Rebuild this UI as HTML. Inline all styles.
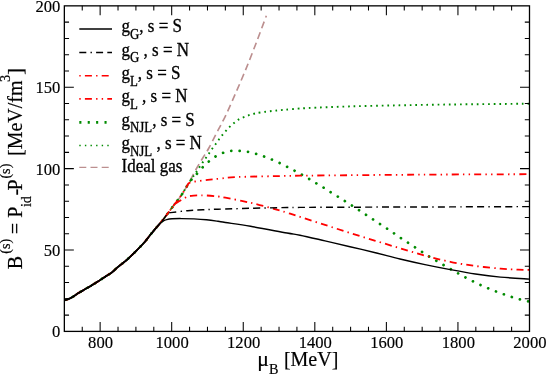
<!DOCTYPE html>
<html><head><meta charset="utf-8"><title>chart</title>
<style>html,body{margin:0;padding:0;background:#fff;}body{width:546px;height:374px;overflow:hidden;position:relative;font-family:"Liberation Serif",serif;}</style>
</head><body>
<svg width="546" height="374" viewBox="0 0 546 374" style="position:absolute;left:0;top:0;will-change:transform">
<rect x="0" y="0" width="546" height="374" fill="#fff"/>
<clipPath id="c"><rect x="64.35" y="5.85" width="465.15" height="325.55"/></clipPath>
<g clip-path="url(#c)" fill="none">
<path d="M64.00 300.00 C64.42 299.93 65.50 299.87 66.50 299.60 C67.50 299.33 68.75 298.98 70.00 298.40 C71.25 297.82 72.67 296.95 74.00 296.10 C75.33 295.25 76.52 294.23 78.00 293.30 C79.48 292.37 81.57 291.28 82.90 290.50 C84.23 289.72 84.82 289.28 86.00 288.60 C87.18 287.92 88.65 287.20 90.00 286.40 C91.35 285.60 92.77 284.63 94.10 283.80 C95.43 282.97 96.68 282.23 98.00 281.40 C99.32 280.57 100.50 279.77 102.00 278.80 C103.50 277.83 105.27 276.73 107.00 275.60 C108.73 274.47 110.57 273.45 112.40 272.00 C114.23 270.55 115.43 269.07 118.00 266.90 C120.57 264.73 123.65 262.82 127.80 259.00 C131.95 255.18 139.20 247.97 142.90 244.00 C146.60 240.03 147.77 237.92 150.00 235.20 C152.23 232.48 154.20 230.18 156.30 227.70 C158.40 225.22 160.52 222.92 162.60 220.30 C164.68 217.68 166.75 214.75 168.80 212.00 C170.85 209.25 172.86 206.52 174.89 203.80 C176.93 201.08 178.96 198.70 181.01 195.70 C183.06 192.70 185.38 188.87 187.19 185.80 C188.99 182.73 190.17 180.35 191.82 177.30 C193.47 174.25 195.25 170.75 197.09 167.50 C198.94 164.25 200.94 161.05 202.91 157.80 C204.88 154.55 206.55 152.25 208.90 148.00 C211.25 143.75 214.14 137.83 216.99 132.30 C219.84 126.77 222.74 121.68 226.00 114.80 C229.27 107.92 233.83 97.30 236.60 91.00 C239.37 84.70 240.60 81.75 242.60 77.00 C244.60 72.25 246.15 68.58 248.57 62.50 C250.99 56.42 254.15 48.28 257.11 40.50 C260.07 32.72 264.81 19.92 266.34 15.80" stroke="#bc8f8f" stroke-width="1.65" stroke-dasharray="7.00 4.20" stroke-dashoffset="1.80"/>
<path d="M64.00 300.00 C64.42 299.93 65.50 299.87 66.50 299.60 C67.50 299.33 68.75 298.98 70.00 298.40 C71.25 297.82 72.67 296.95 74.00 296.10 C75.33 295.25 76.52 294.23 78.00 293.30 C79.48 292.37 81.57 291.28 82.90 290.50 C84.23 289.72 84.82 289.28 86.00 288.60 C87.18 287.92 88.65 287.20 90.00 286.40 C91.35 285.60 92.77 284.63 94.10 283.80 C95.43 282.97 96.68 282.23 98.00 281.40 C99.32 280.57 100.50 279.77 102.00 278.80 C103.50 277.83 105.27 276.73 107.00 275.60 C108.73 274.47 110.57 273.45 112.40 272.00 C114.23 270.55 115.43 269.07 118.00 266.90 C120.57 264.73 123.65 262.82 127.80 259.00 C131.95 255.18 139.20 247.97 142.90 244.00 C146.60 240.03 147.77 237.92 150.00 235.20 C152.23 232.48 154.20 230.18 156.30 227.70 C158.40 225.22 160.52 222.92 162.60 220.30 C164.68 217.68 166.75 214.75 168.80 212.00 C170.85 209.25 172.86 206.52 174.89 203.80 C176.93 201.08 178.96 198.70 181.01 195.70 C183.06 192.70 185.42 188.62 187.19 185.80 C188.95 182.98 190.40 180.63 191.60 178.80 C192.80 176.97 193.43 176.22 194.40 174.80 C195.37 173.38 196.38 171.87 197.40 170.30 C198.42 168.73 199.43 166.97 200.50 165.40 C201.57 163.83 202.72 162.42 203.80 160.90 C204.88 159.38 205.95 157.82 207.00 156.30 C208.05 154.78 209.05 153.32 210.10 151.80 C211.15 150.28 212.20 148.72 213.30 147.20 C214.40 145.68 215.58 144.23 216.70 142.70 C217.82 141.17 218.90 139.48 220.00 138.00 C221.10 136.52 222.12 135.20 223.30 133.80 C224.48 132.40 225.85 130.93 227.10 129.60 C228.35 128.27 229.43 127.07 230.80 125.80 C232.17 124.53 233.82 123.15 235.30 122.00 C236.78 120.85 238.07 119.78 239.70 118.90 C241.33 118.02 243.38 117.38 245.10 116.70 C246.82 116.02 248.35 115.33 250.00 114.80 C251.65 114.27 253.17 113.90 255.00 113.50 C256.83 113.10 258.50 112.78 261.00 112.40 C263.50 112.02 266.33 111.62 270.00 111.20 C273.67 110.78 276.83 110.42 283.00 109.90 C289.17 109.38 295.83 108.68 307.00 108.10 C318.17 107.52 334.50 106.87 350.00 106.40 C365.50 105.93 383.33 105.62 400.00 105.30 C416.67 104.98 428.43 104.77 450.00 104.50 C471.57 104.23 516.17 103.83 529.40 103.70" stroke="#008b00" stroke-width="1.90" stroke-dasharray="1.70 3.90" stroke-dashoffset="-2.20"/>
<path d="M64.00 300.00 C64.42 299.93 65.50 299.87 66.50 299.60 C67.50 299.33 68.75 298.98 70.00 298.40 C71.25 297.82 72.67 296.95 74.00 296.10 C75.33 295.25 76.52 294.23 78.00 293.30 C79.48 292.37 81.57 291.28 82.90 290.50 C84.23 289.72 84.82 289.28 86.00 288.60 C87.18 287.92 88.65 287.20 90.00 286.40 C91.35 285.60 92.77 284.63 94.10 283.80 C95.43 282.97 96.68 282.23 98.00 281.40 C99.32 280.57 100.50 279.77 102.00 278.80 C103.50 277.83 105.27 276.73 107.00 275.60 C108.73 274.47 110.57 273.45 112.40 272.00 C114.23 270.55 115.43 269.07 118.00 266.90 C120.57 264.73 123.65 262.82 127.80 259.00 C131.95 255.18 139.20 247.97 142.90 244.00 C146.60 240.03 147.77 237.92 150.00 235.20 C152.23 232.48 154.20 230.18 156.30 227.70 C158.40 225.22 160.52 222.92 162.60 220.30 C164.68 217.68 166.75 214.75 168.80 212.00 C170.85 209.25 172.86 206.52 174.89 203.80 C176.93 201.08 178.96 198.70 181.01 195.70 C183.06 192.70 185.59 188.32 187.19 185.80 C188.79 183.28 189.73 181.73 190.60 180.60 C191.47 179.47 191.63 179.83 192.40 179.00 C193.17 178.17 194.20 176.73 195.20 175.60 C196.20 174.47 196.98 173.77 198.40 172.20 C199.82 170.63 201.77 168.13 203.70 166.20 C205.63 164.27 207.83 162.33 210.00 160.60 C212.17 158.87 214.32 157.17 216.70 155.80 C219.08 154.43 221.65 153.23 224.30 152.40 C226.95 151.57 229.82 151.05 232.60 150.80 C235.38 150.55 238.18 150.68 241.00 150.90 C243.82 151.12 246.78 151.55 249.50 152.10 C252.22 152.65 254.65 153.38 257.30 154.20 C259.95 155.02 262.80 156.03 265.40 157.00 C268.00 157.97 270.38 158.93 272.90 160.00 C275.42 161.07 277.98 162.18 280.50 163.40 C283.02 164.62 285.50 166.00 288.00 167.30 C290.50 168.60 293.07 169.90 295.50 171.20 C297.93 172.50 300.18 173.72 302.60 175.10 C305.02 176.48 307.55 178.03 310.00 179.50 C312.45 180.97 314.87 182.43 317.30 183.90 C319.73 185.37 322.25 186.83 324.60 188.30 C326.95 189.77 329.00 191.20 331.40 192.70 C333.80 194.20 336.62 195.82 339.00 197.30 C341.38 198.78 343.40 200.13 345.70 201.60 C348.00 203.07 350.45 204.58 352.80 206.10 C355.15 207.62 357.47 209.17 359.80 210.70 C362.13 212.23 364.50 213.78 366.80 215.30 C369.10 216.82 371.28 218.27 373.60 219.80 C375.92 221.33 378.35 222.95 380.70 224.50 C383.05 226.05 385.37 227.55 387.70 229.10 C390.03 230.65 392.38 232.22 394.70 233.80 C397.02 235.38 399.32 237.07 401.60 238.60 C403.88 240.13 406.07 241.48 408.40 243.00 C410.73 244.52 413.23 246.15 415.60 247.70 C417.97 249.25 420.27 250.78 422.60 252.30 C424.93 253.82 427.22 255.33 429.60 256.80 C431.98 258.27 434.47 259.67 436.90 261.10 C439.33 262.53 441.77 263.98 444.20 265.40 C446.63 266.82 449.07 268.20 451.50 269.60 C453.93 271.00 456.37 272.43 458.80 273.80 C461.23 275.17 463.65 276.50 466.10 277.80 C468.55 279.10 471.02 280.37 473.50 281.60 C475.98 282.83 478.48 284.05 481.00 285.20 C483.52 286.35 486.03 287.43 488.60 288.50 C491.17 289.57 493.77 290.60 496.40 291.60 C499.03 292.60 501.77 293.58 504.40 294.50 C507.03 295.42 509.53 296.27 512.20 297.10 C514.87 297.93 517.53 298.75 520.40 299.50 C523.27 300.25 527.90 301.25 529.40 301.60" stroke="#008b00" stroke-width="2.75" stroke-dasharray="0.01 8.39" stroke-linecap="round" stroke-dashoffset="-1.90"/>
<path d="M64.00 300.00 C64.42 299.93 65.50 299.87 66.50 299.60 C67.50 299.33 68.75 298.98 70.00 298.40 C71.25 297.82 72.67 296.95 74.00 296.10 C75.33 295.25 76.52 294.23 78.00 293.30 C79.48 292.37 81.57 291.28 82.90 290.50 C84.23 289.72 84.82 289.28 86.00 288.60 C87.18 287.92 88.65 287.20 90.00 286.40 C91.35 285.60 92.77 284.63 94.10 283.80 C95.43 282.97 96.68 282.23 98.00 281.40 C99.32 280.57 100.50 279.77 102.00 278.80 C103.50 277.83 105.27 276.73 107.00 275.60 C108.73 274.47 110.57 273.45 112.40 272.00 C114.23 270.55 115.43 269.07 118.00 266.90 C120.57 264.73 123.65 262.82 127.80 259.00 C131.95 255.18 139.20 247.97 142.90 244.00 C146.60 240.03 147.77 237.92 150.00 235.20 C152.23 232.48 154.20 230.18 156.30 227.70 C158.40 225.22 160.52 222.92 162.60 220.30 C164.68 217.68 166.75 214.75 168.80 212.00 C170.85 209.25 172.86 206.52 174.89 203.80 C176.93 201.08 178.96 198.70 181.01 195.70 C183.06 192.70 185.97 187.82 187.19 185.80 C188.40 183.78 188.11 183.97 188.30 183.60 L188.30 183.60 C188.63 183.42 189.58 182.77 190.30 182.50 C191.02 182.23 191.80 182.17 192.60 182.00 C193.40 181.83 192.58 181.87 195.10 181.50 C197.62 181.13 203.50 180.28 207.70 179.80 C211.90 179.32 215.25 179.07 220.30 178.60 C225.35 178.13 226.88 177.45 238.00 177.00 C249.12 176.55 276.67 176.12 287.00 175.90 C297.33 175.68 289.50 175.82 300.00 175.70 C310.50 175.58 333.33 175.35 350.00 175.20 C366.67 175.05 383.33 174.92 400.00 174.80 C416.67 174.68 428.43 174.60 450.00 174.50 C471.57 174.40 516.17 174.25 529.40 174.20" stroke="#ff0000" stroke-width="1.80" stroke-dasharray="1.40 4.20 7.00 4.20 1.40 4.20" stroke-dashoffset="-6.40"/>
<path d="M64.00 300.00 C64.42 299.93 65.50 299.87 66.50 299.60 C67.50 299.33 68.75 298.98 70.00 298.40 C71.25 297.82 72.67 296.95 74.00 296.10 C75.33 295.25 76.52 294.23 78.00 293.30 C79.48 292.37 81.57 291.28 82.90 290.50 C84.23 289.72 84.82 289.28 86.00 288.60 C87.18 287.92 88.65 287.20 90.00 286.40 C91.35 285.60 92.77 284.63 94.10 283.80 C95.43 282.97 96.68 282.23 98.00 281.40 C99.32 280.57 100.50 279.77 102.00 278.80 C103.50 277.83 105.27 276.73 107.00 275.60 C108.73 274.47 110.57 273.45 112.40 272.00 C114.23 270.55 115.43 269.07 118.00 266.90 C120.57 264.73 123.65 262.82 127.80 259.00 C131.95 255.18 139.20 247.97 142.90 244.00 C146.60 240.03 147.77 237.92 150.00 235.20 C152.23 232.48 154.20 230.18 156.30 227.70 C158.40 225.22 160.52 222.92 162.60 220.30 C164.68 217.68 166.63 214.78 168.80 212.00 C170.97 209.22 174.47 205.00 175.60 203.60 L175.60 203.60 C176.17 203.22 177.83 202.03 179.00 201.30 C180.17 200.57 181.28 199.93 182.60 199.20 C183.92 198.47 185.43 197.47 186.90 196.90 C188.37 196.33 189.43 196.05 191.40 195.80 C193.37 195.55 196.43 195.47 198.70 195.40 C200.97 195.33 201.78 195.22 205.00 195.40 C208.22 195.58 214.60 196.12 218.00 196.50 C221.40 196.88 219.98 196.65 225.40 197.70 C230.82 198.75 242.13 200.87 250.50 202.80 C258.87 204.73 269.52 207.65 275.60 209.30 C281.68 210.95 282.93 211.43 287.00 212.70 C291.07 213.97 293.67 214.87 300.00 216.90 C306.33 218.93 316.67 222.22 325.00 224.90 C333.33 227.58 341.60 230.35 350.00 233.00 C358.40 235.65 366.98 238.23 375.40 240.80 C383.82 243.37 392.23 245.93 400.50 248.40 C408.77 250.87 416.70 253.37 425.00 255.60 C433.30 257.83 441.90 260.07 450.30 261.80 C458.70 263.53 467.03 264.87 475.40 266.00 C483.77 267.13 493.40 268.00 500.50 268.60 C507.60 269.20 513.18 269.38 518.00 269.60 C522.82 269.82 527.50 269.85 529.40 269.90" stroke="#ff0000" stroke-width="1.80" stroke-dasharray="1.40 4.20 7.00 4.20" stroke-dashoffset="7.40"/>
<path d="M64.00 300.00 C64.42 299.93 65.50 299.87 66.50 299.60 C67.50 299.33 68.75 298.98 70.00 298.40 C71.25 297.82 72.67 296.95 74.00 296.10 C75.33 295.25 76.52 294.23 78.00 293.30 C79.48 292.37 81.57 291.28 82.90 290.50 C84.23 289.72 84.82 289.28 86.00 288.60 C87.18 287.92 88.65 287.20 90.00 286.40 C91.35 285.60 92.77 284.63 94.10 283.80 C95.43 282.97 96.68 282.23 98.00 281.40 C99.32 280.57 100.50 279.77 102.00 278.80 C103.50 277.83 105.27 276.73 107.00 275.60 C108.73 274.47 110.57 273.45 112.40 272.00 C114.23 270.55 115.43 269.07 118.00 266.90 C120.57 264.73 123.65 262.82 127.80 259.00 C131.95 255.18 139.20 247.97 142.90 244.00 C146.60 240.03 147.77 237.92 150.00 235.20 C152.23 232.48 154.20 230.18 156.30 227.70 C158.40 225.22 160.72 222.68 162.60 220.30 C164.48 217.92 166.77 214.55 167.60 213.40 L167.60 213.40 C168.12 213.27 167.35 213.05 170.70 212.60 C174.05 212.15 182.35 211.17 187.70 210.70 C193.05 210.23 197.75 210.05 202.80 209.80 C207.85 209.55 210.05 209.45 218.00 209.20 C225.95 208.95 239.00 208.58 250.50 208.30 C262.00 208.02 278.75 207.65 287.00 207.50 C295.25 207.35 289.50 207.45 300.00 207.40 C310.50 207.35 333.33 207.27 350.00 207.20 C366.67 207.13 383.33 207.05 400.00 207.00 C416.67 206.95 428.43 206.97 450.00 206.90 C471.57 206.83 516.17 206.65 529.40 206.60" stroke="#000" stroke-width="1.45" stroke-dasharray="7.00 4.20 1.40 4.20 7.00 4.20" stroke-dashoffset="1.10"/>
<path d="M64.00 300.00 C64.42 299.93 65.50 299.87 66.50 299.60 C67.50 299.33 68.75 298.98 70.00 298.40 C71.25 297.82 72.67 296.95 74.00 296.10 C75.33 295.25 76.52 294.23 78.00 293.30 C79.48 292.37 81.57 291.28 82.90 290.50 C84.23 289.72 84.82 289.28 86.00 288.60 C87.18 287.92 88.65 287.20 90.00 286.40 C91.35 285.60 92.77 284.63 94.10 283.80 C95.43 282.97 96.68 282.23 98.00 281.40 C99.32 280.57 100.50 279.77 102.00 278.80 C103.50 277.83 105.27 276.73 107.00 275.60 C108.73 274.47 110.57 273.45 112.40 272.00 C114.23 270.55 115.43 269.07 118.00 266.90 C120.57 264.73 123.65 262.82 127.80 259.00 C131.95 255.18 139.20 247.97 142.90 244.00 C146.60 240.03 147.77 237.92 150.00 235.20 C152.23 232.48 154.67 229.60 156.30 227.70 C157.93 225.80 158.68 224.88 159.80 223.80 C160.92 222.72 161.85 221.90 163.00 221.20 C164.15 220.50 165.18 220.00 166.70 219.60 C168.22 219.20 169.65 218.97 172.10 218.80 C174.55 218.63 177.75 218.58 181.40 218.60 C185.05 218.62 189.82 218.70 194.00 218.90 C198.18 219.10 202.50 219.40 206.50 219.80 C210.50 220.20 214.85 220.85 218.00 221.30 C221.15 221.75 219.98 221.67 225.40 222.50 C230.82 223.33 240.23 224.55 250.50 226.30 C260.77 228.05 278.75 231.52 287.00 233.00 C295.25 234.48 293.67 233.88 300.00 235.20 C306.33 236.52 316.67 238.98 325.00 240.90 C333.33 242.82 341.60 244.73 350.00 246.70 C358.40 248.67 367.07 250.65 375.40 252.70 C383.73 254.75 391.73 257.02 400.00 259.00 C408.27 260.98 416.62 262.83 425.00 264.60 C433.38 266.37 441.90 268.03 450.30 269.60 C458.70 271.17 467.03 272.75 475.40 274.00 C483.77 275.25 491.50 276.25 500.50 277.10 C509.50 277.95 524.58 278.77 529.40 279.10" stroke="#000" stroke-width="1.45"/>
<path d="M64.00 300.00 C64.42 299.93 65.50 299.87 66.50 299.60 C67.50 299.33 68.75 298.98 70.00 298.40 C71.25 297.82 72.67 296.95 74.00 296.10 C75.33 295.25 76.52 294.23 78.00 293.30 C79.48 292.37 81.57 291.28 82.90 290.50 C84.23 289.72 84.82 289.28 86.00 288.60 C87.18 287.92 88.65 287.20 90.00 286.40 C91.35 285.60 92.77 284.63 94.10 283.80 C95.43 282.97 96.68 282.23 98.00 281.40 C99.32 280.57 100.50 279.77 102.00 278.80 C103.50 277.83 105.27 276.73 107.00 275.60 C108.73 274.47 110.57 273.45 112.40 272.00 C114.23 270.55 115.43 269.07 118.00 266.90 C120.57 264.73 123.65 262.82 127.80 259.00 C131.95 255.18 139.20 247.97 142.90 244.00 C146.60 240.03 147.77 237.92 150.00 235.20 C152.23 232.48 154.55 229.77 156.30 227.70 C158.05 225.63 159.80 223.62 160.50 222.80" stroke="#000" stroke-width="1.75"/>
</g>
<rect x="64.35" y="5.85" width="465.15" height="325.55" fill="none" stroke="#000" stroke-width="1.30"/>
<path d="M82.24 331.40v-4.70M82.24 5.85v4.70M100.13 331.40v-9.50M100.13 5.85v9.50M118.02 331.40v-4.70M118.02 5.85v4.70M135.91 331.40v-4.70M135.91 5.85v4.70M153.80 331.40v-4.70M153.80 5.85v4.70M171.69 331.40v-9.50M171.69 5.85v9.50M189.58 331.40v-4.70M189.58 5.85v4.70M207.47 331.40v-4.70M207.47 5.85v4.70M225.36 331.40v-4.70M225.36 5.85v4.70M243.25 331.40v-9.50M243.25 5.85v9.50M261.14 331.40v-4.70M261.14 5.85v4.70M279.03 331.40v-4.70M279.03 5.85v4.70M296.92 331.40v-4.70M296.92 5.85v4.70M314.82 331.40v-9.50M314.82 5.85v9.50M332.71 331.40v-4.70M332.71 5.85v4.70M350.60 331.40v-4.70M350.60 5.85v4.70M368.49 331.40v-4.70M368.49 5.85v4.70M386.38 331.40v-9.50M386.38 5.85v9.50M404.27 331.40v-4.70M404.27 5.85v4.70M422.16 331.40v-4.70M422.16 5.85v4.70M440.05 331.40v-4.70M440.05 5.85v4.70M457.94 331.40v-9.50M457.94 5.85v9.50M475.83 331.40v-4.70M475.83 5.85v4.70M493.72 331.40v-4.70M493.72 5.85v4.70M511.61 331.40v-4.70M511.61 5.85v4.70M64.35 315.12h4.70M529.50 315.12h-4.70M64.35 298.84h4.70M529.50 298.84h-4.70M64.35 282.57h4.70M529.50 282.57h-4.70M64.35 266.29h4.70M529.50 266.29h-4.70M64.35 250.01h9.50M529.50 250.01h-9.50M64.35 233.74h4.70M529.50 233.74h-4.70M64.35 217.46h4.70M529.50 217.46h-4.70M64.35 201.18h4.70M529.50 201.18h-4.70M64.35 184.90h4.70M529.50 184.90h-4.70M64.35 168.62h9.50M529.50 168.62h-9.50M64.35 152.35h4.70M529.50 152.35h-4.70M64.35 136.07h4.70M529.50 136.07h-4.70M64.35 119.79h4.70M529.50 119.79h-4.70M64.35 103.52h4.70M529.50 103.52h-4.70M64.35 87.24h9.50M529.50 87.24h-9.50M64.35 70.96h4.70M529.50 70.96h-4.70M64.35 54.68h4.70M529.50 54.68h-4.70M64.35 38.41h4.70M529.50 38.41h-4.70M64.35 22.13h4.70M529.50 22.13h-4.70" stroke="#000" stroke-width="1.05" fill="none"/>
<g font-family="'Liberation Serif', serif" font-size="16.6px" fill="#000" stroke="#000" stroke-width="0.15">
<text transform="translate(100.53,348.4) scale(1,1.060)" text-anchor="middle">800</text>
<text transform="translate(172.09,348.4) scale(1,1.060)" text-anchor="middle">1000</text>
<text transform="translate(243.65,348.4) scale(1,1.060)" text-anchor="middle">1200</text>
<text transform="translate(315.22,348.4) scale(1,1.060)" text-anchor="middle">1400</text>
<text transform="translate(386.78,348.4) scale(1,1.060)" text-anchor="middle">1600</text>
<text transform="translate(458.34,348.4) scale(1,1.060)" text-anchor="middle">1800</text>
<text transform="translate(529.90,348.4) scale(1,1.060)" text-anchor="middle">2000</text>
<text transform="translate(60.4,337.40) scale(1,1.060)" text-anchor="end">0</text>
<text transform="translate(60.4,256.01) scale(1,1.060)" text-anchor="end">50</text>
<text transform="translate(60.4,174.62) scale(1,1.060)" text-anchor="end">100</text>
<text transform="translate(60.4,93.24) scale(1,1.060)" text-anchor="end">150</text>
<text transform="translate(60.4,11.85) scale(1,1.060)" text-anchor="end">200</text>
</g>
<g font-family="'Liberation Serif', serif" fill="#000" stroke="#000" stroke-width="0.2">
<text font-size="20px" xml:space="preserve"><tspan x="257.2" y="366.1" font-size="21.8px">μ</tspan><tspan x="268.9" y="374.00" font-size="14.2px">B</tspan><tspan x="283.9" y="366.2">[MeV]</tspan></text>
<text transform="translate(21.9,270) rotate(-90)" xml:space="preserve"><tspan x="0.80" y="0.00" font-size="20.0px">B</tspan><tspan x="16.20" y="-11.60" font-size="14.2px">(s)</tspan><tspan x="35.80" y="0.00" font-size="20.0px">=</tspan><tspan x="52.30" y="0.00" font-size="20.0px">P</tspan><tspan x="62.90" y="8.60" font-size="14.2px">id</tspan><tspan x="74.40" y="0.00" font-size="20.0px">-</tspan><tspan x="79.40" y="0.00" font-size="20.0px">P</tspan><tspan x="91.40" y="-11.60" font-size="14.2px">(s)</tspan><tspan x="114.00" y="0.00" font-size="20.0px">[MeV/fm</tspan><tspan x="188.00" y="-11.60" font-size="14.2px">3</tspan><tspan x="195.20" y="0.00" font-size="20.0px">]</tspan></text>
</g>
<path d="M79.30 29.10H112.00" stroke="#000" stroke-width="1.50" fill="none"/>
<path d="M79.30 52.40H112.00" stroke="#000" stroke-width="1.50" fill="none" stroke-dasharray="7.00 4.20 1.40 4.20 7.00 4.20"/>
<path d="M79.30 75.70H112.00" stroke="#ff0000" stroke-width="1.65" fill="none" stroke-dasharray="1.40 4.20 7.00 4.20"/>
<path d="M79.30 98.90H112.00" stroke="#ff0000" stroke-width="1.65" fill="none" stroke-dasharray="1.40 4.20 7.00 4.20 1.40 4.20"/>
<path d="M79.30 122.40H112.00" stroke="#008b00" stroke-width="2.60" fill="none" stroke-dasharray="2.1 6.3"/>
<path d="M79.30 145.50H112.00" stroke="#008b00" stroke-width="1.50" fill="none" stroke-dasharray="1.40 4.20"/>
<path d="M79.30 167.40H112.00" stroke="#bc8f8f" stroke-width="1.30" fill="none" stroke-dasharray="7.00 4.20"/>
<g font-family="'Liberation Serif', serif" font-size="17px" fill="#000" stroke="#000" stroke-width="0.3">
<text transform="translate(121.50,32.20) scale(1,1.085)" xml:space="preserve">g<tspan font-size="12.9px" dy="6.0">G</tspan><tspan dy="-6.0">, s = S</tspan></text>
<text transform="translate(121.50,55.80) scale(1,1.085)" xml:space="preserve">g<tspan font-size="12.9px" dy="6.0">G</tspan><tspan dy="-6.0"> , s = N</tspan></text>
<text transform="translate(121.50,79.20) scale(1,1.085)" xml:space="preserve">g<tspan font-size="12.9px" dy="6.0">L</tspan><tspan dy="-6.0">, s = S</tspan></text>
<text transform="translate(121.50,102.40) scale(1,1.085)" xml:space="preserve">g<tspan font-size="12.9px" dy="6.0">L</tspan><tspan dy="-6.0"> , s = N</tspan></text>
<text transform="translate(121.50,125.80) scale(1,1.085)" xml:space="preserve">g<tspan font-size="12.9px" dy="6.0">NJL</tspan><tspan dy="-6.0">, s = S</tspan></text>
<text transform="translate(121.50,149.00) scale(1,1.085)" xml:space="preserve">g<tspan font-size="12.9px" dy="6.0">NJL</tspan><tspan dy="-6.0"> , s = N</tspan></text>
<text transform="translate(121.50,171.70) scale(1,1.085)">Ideal gas</text>
</g>
</svg>
</body></html>
